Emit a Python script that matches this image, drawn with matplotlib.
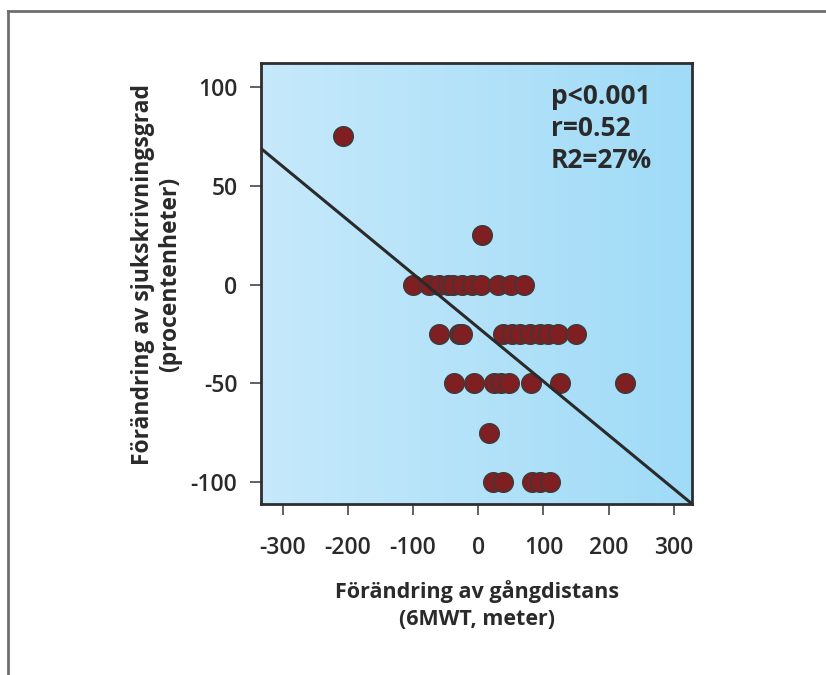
import numpy as np
import matplotlib.pyplot as plt
from matplotlib.colors import LinearSegmentedColormap
from matplotlib.lines import Line2D

# change in walking distance (6MWT, m) vs change in sick-leave (percentage units)
walk_change = [-208, 6,
               -100, -75, -60, -47, -38, -25, -10, 5, 30, 50, 70,
               -60, -30, -25, 38, 52, 64, 80, 95, 107, 123, 150,
               -37, -6, 24, 35, 47, 81, 126, 225,
               17,
               23, 38, 82, 95, 110]
sick_change = [75, 25,
               0, 0, 0, 0, 0, 0, 0, 0, 0, 0, 0,
               -25, -25, -25, -25, -25, -25, -25, -25, -25, -25, -25,
               -50, -50, -50, -50, -50, -50, -50, -50,
               -75,
               -100, -100, -100, -100, -100]

# fitted line as drawn in the figure
fit_slope = -0.272
fit_icept = -21.8

stats_text = ['p<0.001', 'r=0.52', 'R2=27%']
xticks = [-300, -200, -100, 0, 100, 200, 300]
yticks = [-100, -50, 0, 50, 100]

plt.rcParams['font.family'] = ['Open Sans', 'DejaVu Sans']
plt.rcParams['axes.unicode_minus'] = False

fig = plt.figure(figsize=(8.26, 6.75), dpi=100)
ax = fig.add_axes([0.316, 0.2533, 0.522, 0.6533])

xlim = (-333, 328)
ylim = (-111, 112)

# gradient background
bg = LinearSegmentedColormap.from_list('bg', ['#c6e9fb', '#a0dbf7'])
grad = np.linspace(0, 1, 256).reshape(1, -1)
ax.imshow(grad, cmap=bg, aspect='auto', extent=(*xlim, *ylim), zorder=0)

ax.scatter(walk_change, sick_change, s=200, color='#7f1f22',
           edgecolor='#3a3a3a', linewidth=1.0, zorder=3)

xx = np.array(xlim)
ax.plot(xx, fit_slope * xx + fit_icept, color='#2a2a2a', lw=2.2, zorder=4)

ax.set_xlim(xlim)
ax.set_ylim(ylim)
ax.set_xticks(xticks)
ax.set_yticks(yticks)
ax.tick_params(axis='both', direction='out', length=8, width=1.3,
               color='#555555', labelsize=16.5, labelcolor='#2a2a2a')
ax.tick_params(axis='x', pad=15)
ax.tick_params(axis='y', pad=9)
for lab in ax.get_xticklabels() + ax.get_yticklabels():
    lab.set_fontweight('semibold')
for sp in ax.spines.values():
    sp.set_linewidth(2)
    sp.set_color('#2e2e2e')

ax.set_xlabel('Förändring av gångdistans\n(6MWT, meter)', fontsize=15.5,
              fontweight='bold', color='#2a2a2a', linespacing=1.4)
ax.xaxis.set_label_coords(0.5, -0.172)
ax.set_ylabel('Förändring av sjukskrivningsgrad\n(procentenheter)', fontsize=16.5,
              fontweight='bold', color='#2a2a2a', linespacing=1.2)
ax.yaxis.set_label_coords(-0.182, 0.52)

ax.text(0.672, 0.955, '\n'.join(stats_text), transform=ax.transAxes,
        fontsize=19, fontweight='bold', color='#2a2a2a', va='top', ha='left',
        linespacing=1.23, zorder=5)

# outer frame (only top and left edge visible)
fig.add_artist(Line2D([8 / 826, 8 / 826], [0, 1 - 11 / 675], transform=fig.transFigure,
                      color='#6e6e6e', lw=2))
fig.add_artist(Line2D([8 / 826, 1], [1 - 11 / 675, 1 - 11 / 675], transform=fig.transFigure,
                      color='#6e6e6e', lw=2))

fig.savefig('out.png', dpi=100)
